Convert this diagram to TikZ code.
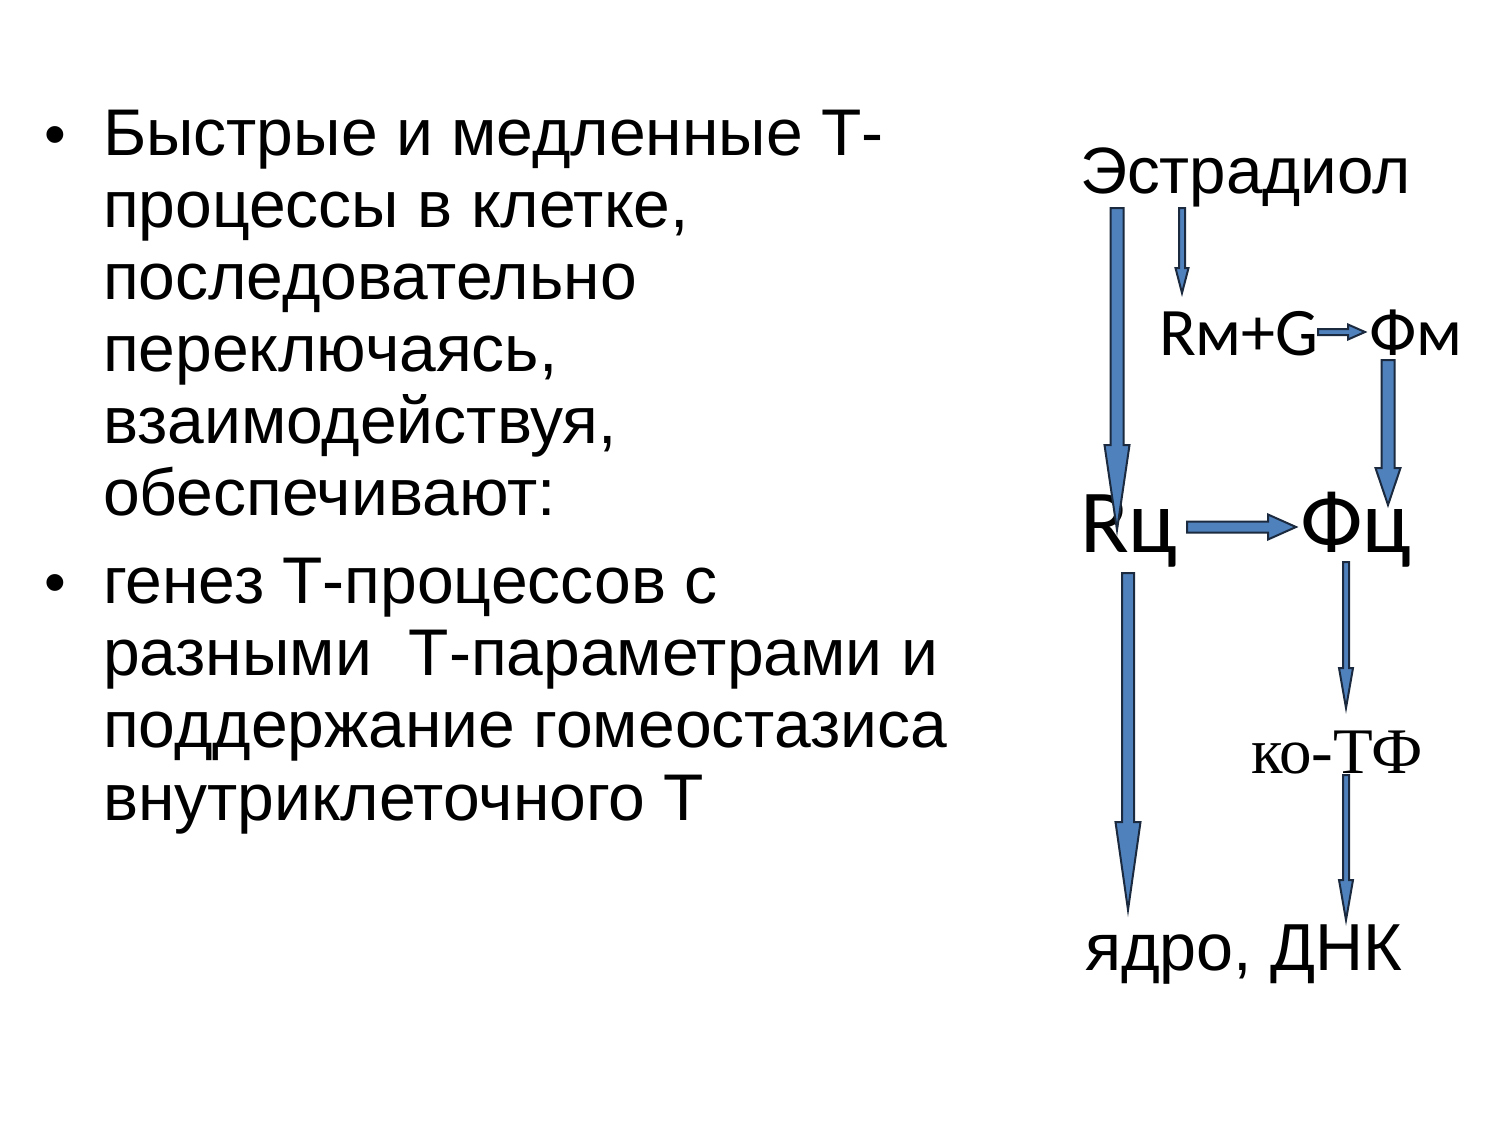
\documentclass[tikz,border=0pt]{standalone}
\usepackage{fontspec}
\setmainfont{Liberation Sans}
\newfontfamily\carlitofont{Carlito}
\newfontfamily\tnrfont{Liberation Serif}
\usetikzlibrary{calc}
\definecolor{arrowfill}{HTML}{4F81BD}
\definecolor{arrowline}{HTML}{1B2A3E}
\tikzset{
  txt/.style={anchor=base west, inner sep=0pt, outer sep=0pt},
  body/.style={txt, font=\fontsize{66}{72}\selectfont},
  blockarrow/.style={fill=arrowfill, draw=arrowline, line width=2pt, line join=miter}
}
% vertical (downward) block arrow: start, tip, shaft half width, head half width, head length
\newcommand\vblock[5]{\draw[blockarrow] let \p1=(#1), \p2=(#2) in
  (\x1-#3pt,\y1) -- (\x1+#3pt,\y1) -- (\x1+#3pt,\y2+#5pt) -- (\x1+#4pt,\y2+#5pt) --
  (\x1,\y2) -- (\x1-#4pt,\y2+#5pt) -- (\x1-#3pt,\y2+#5pt) -- cycle;}
% horizontal (rightward) block arrow
\newcommand\hblock[5]{\draw[blockarrow] let \p1=(#1), \p2=(#2) in
  (\x1,\y1+#3pt) -- (\x2-#5pt,\y1+#3pt) -- (\x2-#5pt,\y1+#4pt) --
  (\x2,\y1) -- (\x2-#5pt,\y1-#4pt) -- (\x2-#5pt,\y1-#3pt) -- (\x1,\y1-#3pt) -- cycle;}
\begin{document}
\begin{tikzpicture}[x=1pt,y=-1pt]
\fill[white] (0,0) rectangle (1500,1125);
\path[use as bounding box] (0,0) rectangle (1500,1125);

% left bullet text
\node[txt, font=\fontsize{62}{72}\selectfont] (b1) at (44,155) {•};
\node[body] (l1) at (103,155) {Быстрые и медленные Т-};
\node[body] (l2) at (103,227) {процессы в клетке,};
\node[body] (l3) at (103,299) {последовательно};
\node[body] (l4) at (103,371) {переключаясь,};
\node[body] (l5) at (103,443) {взаимодействуя,};
\node[body] (l6) at (103,515) {обеспечивают:};
\node[txt, font=\fontsize{62}{72}\selectfont] (b2) at (44,603) {•};
\node[body] (l7) at (103,603) {генез Т-процессов с};
\node[body] (l8) at (103,675) {разными\ \ Т-параметрами и};
\node[body] (l9) at (103,747) {поддержание гомеостазиса};
\node[body] (l10) at (103,820) {внутриклеточного Т};

% right diagram labels
\node[txt, font=\fontsize{65.5}{72}\selectfont] (estr) at (1080,193) {Эстрадиол};
\node[txt, font=\carlitofont\fontsize{68}{80}\selectfont] (rmg) at (1159,355) {Rм+G};
\node[txt, font=\carlitofont\fontsize{68}{80}\selectfont] (fm) at (1369,355) {Фм};
\node[txt, font=\carlitofont\fontsize{90}{100}\selectfont] (rc) at (1080,552) {Rц};
\node[txt, font=\carlitofont\fontsize{90}{100}\selectfont] (fc) at (1300,552) {Фц};
\node[txt, font=\tnrfont\fontsize{65}{75}\selectfont] (kotf) at (1251,773) {ко-ТФ};
\node[txt, font=\fontsize{66.5}{75}\selectfont] (dna) at (1085,970) {ядро, ДНК};

% arrow end points
\coordinate (a1s) at (1117,208);  \coordinate (a1t) at (1117,530);
\coordinate (a2s) at (1182,208);  \coordinate (a2t) at (1182,293);
\coordinate (a3s) at (1318,332);  \coordinate (a3t) at (1365,332);
\coordinate (a4s) at (1388,360);  \coordinate (a4t) at (1388,505);
\coordinate (a5s) at (1187,527);  \coordinate (a5t) at (1296,527);
\coordinate (a6s) at (1128,573);  \coordinate (a6t) at (1128,910);
\coordinate (a7s) at (1346,562);  \coordinate (a7t) at (1346,708);
\coordinate (a8s) at (1346,775);  \coordinate (a8t) at (1346,920);

\vblock{a1s}{a1t}{6.5}{12.5}{85}
\vblock{a2s}{a2t}{3}{6.5}{25}
\hblock{a3s}{a3t}{3}{7.5}{17}
\vblock{a4s}{a4t}{6.5}{12.5}{37}
\hblock{a5s}{a5t}{5.5}{12.5}{28}
\vblock{a6s}{a6t}{6}{12.5}{88}
\vblock{a7s}{a7t}{3}{7}{40}
\vblock{a8s}{a8t}{3}{7}{40}
\end{tikzpicture}
\end{document}
